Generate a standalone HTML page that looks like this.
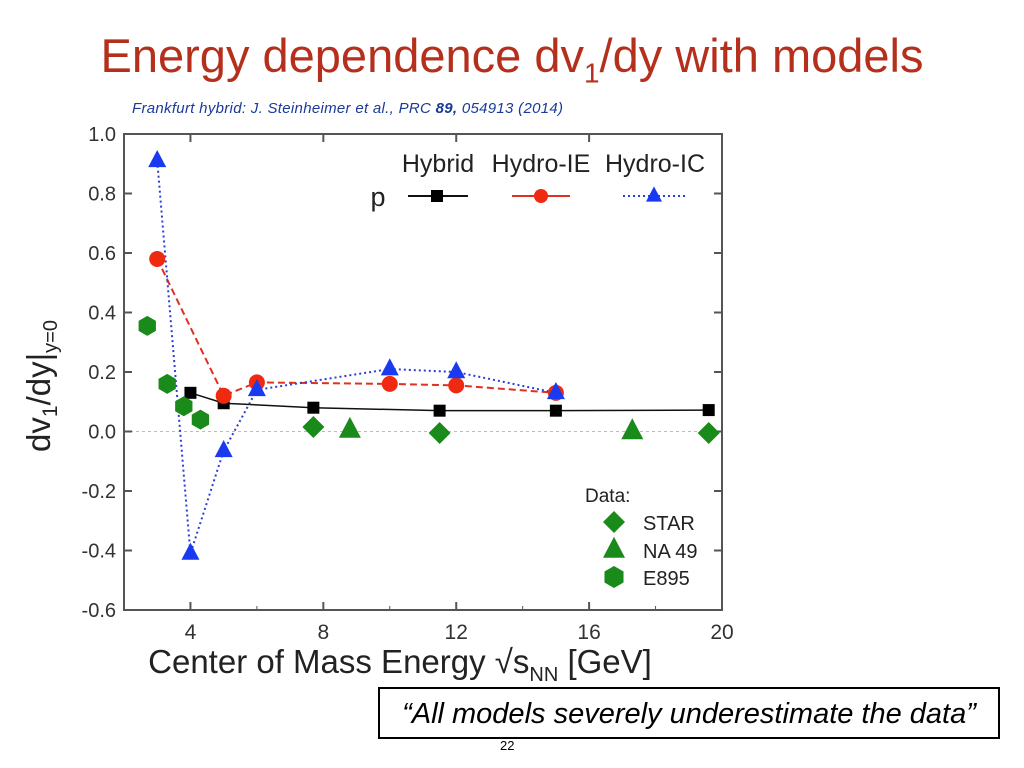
<!DOCTYPE html>
<html><head><meta charset="utf-8"><style>
body{margin:0;width:1024px;height:768px;background:#fff;position:relative;overflow:hidden;font-family:"Liberation Sans",sans-serif}
#title{position:absolute;left:0;width:1024px;top:28px;text-align:center;font-size:47px;color:#b5301c}
#cite{position:absolute;left:132px;top:100px;font-size:15px;font-style:italic;color:#1a3a9a;letter-spacing:0.3px}
#box{position:absolute;left:378px;top:687px;width:618px;height:48px;border:2px solid #000;font-style:italic;font-size:29px;line-height:50px;text-align:center;white-space:nowrap}
#pg{position:absolute;left:500px;top:738px;font-size:13px}
</style></head><body>
<div id="title">Energy dependence dv<sub style="font-size:28px">1</sub>/dy with models</div>
<div id="cite">Frankfurt hybrid: J. Steinheimer et al., PRC <b>89,</b> 054913 (2014)</div>
<svg id="chart" width="1024" height="768" style="position:absolute;left:0;top:0"></svg>
<div id="box">“All models severely underestimate the data”</div>
<div id="pg">22</div>
<script>
const xTicks=[4,8,12,16,20];
const yTicks=[1.0,0.8,0.6,0.4,0.2,0.0,-0.2,-0.4,-0.6];
const hybX=[4,5,7.7,11.5,15,19.6];
const hybY=[0.13,0.095,0.08,0.07,0.07,0.072];
const ieX=[3,5,6,10,12,15];
const ieY=[0.58,0.12,0.165,0.16,0.155,0.13];
const icX=[3,4,5,6,10,12,15];
const icY=[0.91,-0.41,-0.065,0.14,0.21,0.2,0.13];
const starX=[7.7,11.5,19.6];
const starY=[0.015,-0.005,-0.005];
const naX=[8.8,17.3];
const naY=[0.005,0.0];
const e895X=[2.7,3.3,3.8,4.3];
const e895Y=[0.355,0.16,0.085,0.04];
const L=124,R=722,T=134,B=610;
const sx=v=>L+(v-2)/18*(R-L);
const sy=v=>T+(1.0-v)/1.6*(B-T);
const svg=document.getElementById('chart');
const NS='http://www.w3.org/2000/svg';
function mk(t,a,p){const e=document.createElementNS(NS,t);for(const k in a)e.setAttribute(k,a[k]);(p||svg).appendChild(e);return e;}
let f=mk('rect',{x:L,y:T,width:R-L,height:B-T,fill:'none',stroke:'#555','stroke-width':2});


let z=mk('line',{x1:L,x2:R,y1:sy(0),y2:sy(0),stroke:'#bbb','stroke-dasharray':'3,3'});


xTicks.forEach(v=>{
 mk('line',{x1:sx(v),x2:sx(v),y1:B,y2:B-8,stroke:'#555','stroke-width':2});
 mk('line',{x1:sx(v),x2:sx(v),y1:T,y2:T+8,stroke:'#555','stroke-width':2});
 mk('line',{x1:sx(v-2),x2:sx(v-2),y1:B,y2:B-4,stroke:'#555'});
 const t=mk('text',{x:sx(v),y:B+29,'text-anchor':'middle','font-size':21,fill:'#333'});t.textContent=v;
 
 
});
yTicks.forEach(v=>{
 mk('line',{x1:L,x2:L+8,y1:sy(v),y2:sy(v),stroke:'#555','stroke-width':2});
 mk('line',{x1:R,x2:R-8,y1:sy(v),y2:sy(v),stroke:'#555','stroke-width':2});
 const t=mk('text',{x:L-8,y:sy(v)+7,'text-anchor':'end','font-size':20,fill:'#333'});t.textContent=v.toFixed(1);
 
 
});
let xt=mk('text',{x:400,y:673,'text-anchor':'middle','font-size':33,fill:'#222'});
xt.innerHTML='Center of Mass Energy √s<tspan font-size="20" dy="8">NN</tspan><tspan dy="-8"> [GeV]</tspan>';


let yt=mk('text',{x:0,y:0,'text-anchor':'middle','font-size':33,fill:'#222',transform:'translate(50,386) rotate(-90)'});
yt.innerHTML='dv<tspan font-size="21" dy="7">1</tspan><tspan dy="-7">/dy|</tspan><tspan font-size="20" dy="7">y=0</tspan>';


function line(xs,ys,c,d,w,name){const p=mk('polyline',{points:xs.map((x,i)=>sx(x)+','+sy(ys[i])).join(' '),fill:'none',stroke:c,'stroke-width':w,'stroke-dasharray':d});
 
 }
function marker(kind,x,y,c,s){
 let e;
 if(kind==='sq')e=mk('rect',{x:x-s,y:y-s,width:2*s,height:2*s,fill:c});
 else if(kind==='ci')e=mk('circle',{cx:x,cy:y,r:s,fill:c});
 else if(kind==='tri')e=mk('polygon',{points:`${x},${y-s*1.2} ${x-s},${y+s*0.7} ${x+s},${y+s*0.7}`,fill:c});
 else if(kind==='dia')e=mk('polygon',{points:`${x},${y-s} ${x+s},${y} ${x},${y+s} ${x-s},${y}`,fill:c});
 else {let pts=[];for(let i=0;i<6;i++){const a=Math.PI/3*i+Math.PI/6;pts.push((x+s*Math.cos(a))+','+(y+s*Math.sin(a)));}e=mk('polygon',{points:pts.join(' '),fill:c});}
 return e;}
line(hybX,hybY,'#111','',1.5,'hybrid-line');
line(ieX,ieY,'#e03020','7,4',2,'hydro-ie-line');
line(icX,icY,'#2a3fd8','2,3',2,'hydro-ic-line');
hybX.forEach((x,i)=>{const m=marker('sq',sx(x),sy(hybY[i]),'#000',6);});
ieX.forEach((x,i)=>{const m=marker('ci',sx(x),sy(ieY[i]),'#f02a10',8);});
icX.forEach((x,i)=>{const m=marker('tri',sx(x),sy(icY[i]),'#1a3af0',9);});
starX.forEach((x,i)=>{const m=marker('dia',sx(x),sy(starY[i]),'#1a8a1a',11);});
naX.forEach((x,i)=>{const m=marker('tri',sx(x),sy(naY[i]),'#1a8a1a',11);});
e895X.forEach((x,i)=>{const m=marker('hex',sx(x),sy(e895Y[i]),'#1a8a1a',10);});
const lg=[['Hybrid',438],['Hydro-IE',541],['Hydro-IC',655]];
lg.forEach(([n,x])=>{const t=mk('text',{x:x,y:172,'text-anchor':'middle','font-size':25,fill:'#222'});t.textContent=n;});
let p=mk('text',{x:378,y:206,'text-anchor':'middle','font-size':27,fill:'#222'});p.textContent='p';


mk('line',{x1:408,x2:468,y1:196,y2:196,stroke:'#111','stroke-width':2});marker('sq',437,196,'#000',6);
mk('line',{x1:512,x2:570,y1:196,y2:196,stroke:'#e03020','stroke-width':2});marker('ci',541,196,'#f02a10',7);
mk('line',{x1:623,x2:685,y1:196,y2:196,stroke:'#2a3fd8','stroke-width':2,'stroke-dasharray':'2,3'});marker('tri',654,196,'#1a3af0',8);
let d=mk('text',{x:585,y:502,'font-size':19,fill:'#222'});d.textContent='Data:';


[['dia','STAR',522],['tri','NA 49',550],['hex','E895',577]].forEach(([k,n,y])=>{marker(k,sx(2)+490,y,'#1a8a1a',11);
 const t=mk('text',{x:643,y:y+8,'font-size':20,fill:'#222'});t.textContent=n;});
</script>
</body></html>
